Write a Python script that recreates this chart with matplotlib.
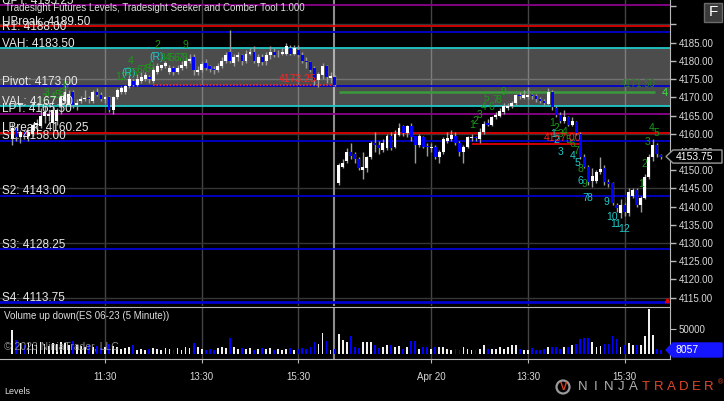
import numpy as np
import matplotlib.pyplot as plt
import matplotlib.transforms as mtransforms
from matplotlib.patches import Polygon, Rectangle, Ellipse

plt.rcParams['font.family'] = ['Liberation Sans', 'DejaVu Sans']

# ES 06-23, 5 minute bars, Apr 19 (day 1) and Apr 20 (day 2)
d1_open = [4158.5, 4161.5, 4159, 4160.5, 4159.5, 4160, 4162.5, 4162, 4165, 4165,
           4163, 4163.5, 4167.5, 4169, 4168, 4171.5, 4168, 4169, 4169.5, 4169.75,
           4169, 4171.5, 4170.75, 4169.5, 4170, 4166.5, 4170, 4171.5, 4171.5, 4173,
           4174.5, 4173.5, 4174.5, 4175, 4175.5, 4174.5, 4177, 4178, 4178.5, 4177,
           4178, 4177, 4178, 4178.5, 4180, 4181, 4177, 4177.5, 4179.5, 4178.5,
           4177.75, 4177.5, 4178.5, 4180, 4182.5, 4179.5, 4181, 4181.5, 4180, 4182,
           4182.5, 4179.5, 4181, 4180, 4181.5, 4182.5, 4181.5, 4182, 4182, 4183.5,
           4182, 4183, 4181.75, 4180, 4179.75, 4178, 4174.75, 4176.25, 4178.5, 4175.25,
           4175.5]
d1_high = [4163, 4162, 4161, 4161, 4161, 4163, 4164, 4167, 4167.5, 4166.5,
           4167.5, 4167, 4171, 4173.5, 4172, 4172, 4169.5, 4170.5, 4172, 4170.5,
           4172, 4172.5, 4171.5, 4170.5, 4170.5, 4170.5, 4172.5, 4173, 4173.5, 4176,
           4175, 4176.5, 4177, 4177, 4176, 4178.5, 4179.5, 4179, 4180, 4179,
           4178.5, 4179, 4180, 4181, 4182, 4182, 4178.5, 4180, 4180.5, 4179,
           4178.5, 4179.5, 4181, 4182.5, 4188.5, 4182, 4182.5, 4182, 4183, 4183.5,
           4184, 4182, 4182, 4182.5, 4184, 4183.5, 4183, 4183.5, 4185, 4184.5,
           4184.5, 4184.5, 4182.5, 4181, 4180, 4178.5, 4177, 4179.5, 4179, 4177,
           4176]
d1_low = [4157, 4158, 4157.5, 4158.5, 4158, 4159.5, 4161, 4161.5, 4163, 4163.5,
          4161, 4162.5, 4165.5, 4168.5, 4167.5, 4167, 4166.5, 4168.5, 4169, 4168.5,
          4168.5, 4170.5, 4169, 4168.5, 4166, 4165.5, 4169.5, 4171, 4171, 4172.5,
          4173, 4173, 4174, 4174.5, 4174, 4174, 4176.5, 4177.5, 4178, 4176.5,
          4176, 4176.5, 4177.5, 4178, 4179.5, 4176, 4176, 4177, 4177.5, 4177,
          4176.5, 4177, 4178, 4179.5, 4179.5, 4178.5, 4180, 4179, 4179.5, 4181.5,
          4179.5, 4178.5, 4179, 4179, 4180.5, 4181, 4181, 4181.5, 4181.5, 4181.5,
          4181.5, 4181, 4179.5, 4178, 4177, 4173.5, 4172.75, 4175, 4174, 4174,
          4173]
d1_close = [4161.5, 4159, 4160.5, 4159.5, 4160.5, 4162.5, 4163, 4165, 4166, 4165.5,
            4166.5, 4166.5, 4170.5, 4171.5, 4171, 4168, 4168.5, 4169.5, 4169.75, 4169.5,
            4171.5, 4170.75, 4169.5, 4170, 4166.5, 4170, 4172, 4172.5, 4173, 4175,
            4173.5, 4175, 4175.5, 4176, 4175, 4177.5, 4178.5, 4178.75, 4179.5, 4178,
            4177, 4178, 4179, 4180, 4180.5, 4177.5, 4177.5, 4179.25, 4178, 4177.75,
            4177.5, 4178.5, 4180, 4181.5, 4180, 4181, 4181.5, 4180, 4182, 4182.5,
            4180, 4181, 4179.75, 4181.5, 4182.5, 4181.5, 4181.75, 4182.5, 4184, 4182,
            4183.5, 4181.75, 4180, 4179.75, 4177.5, 4174.75, 4176.5, 4178.5, 4175.5, 4175.75,
            4173.25]

d2_open = [4146.5, 4151, 4152.5, 4155, 4154.5, 4153, 4150, 4150.5, 4153.5, 4157.5,
           4157, 4155.5, 4156, 4159.5, 4156.5, 4159.75, 4162, 4160.25, 4162.25, 4159.25,
           4157, 4159, 4156.75, 4156, 4156.5, 4153.5, 4155, 4158, 4158.5, 4159.5,
           4157.5, 4155, 4156.5, 4158.75, 4159, 4158.5, 4160.5, 4163, 4162.5, 4164.5,
           4165, 4166, 4167, 4167.5, 4168.5, 4170.75, 4169.75, 4170, 4170.75, 4170.25,
           4169.5, 4169, 4168.25, 4171.5, 4167, 4165.25, 4163.5, 4164.5, 4162.5, 4163.25,
           4160, 4153.75, 4151, 4147, 4147, 4149.5, 4150.5, 4146.75, 4146.5, 4140.5,
           4138.25, 4140.5, 4138.25, 4143, 4144.5, 4140.5, 4142.5, 4148.25, 4153.5, 4157,
           4154.25]
d2_high = [4152, 4153, 4156, 4157.5, 4155, 4153.5, 4155, 4154, 4158, 4160.5,
           4158, 4158.5, 4160, 4160.5, 4161, 4163, 4162.5, 4162.5, 4163, 4159.5,
           4160, 4159.5, 4157.5, 4157.5, 4157, 4155.5, 4159, 4160.5, 4161, 4160.5,
           4158, 4157, 4159.5, 4160, 4159.5, 4161.5, 4163.5, 4164, 4165, 4166,
           4167, 4168.5, 4168.5, 4169, 4171, 4171.5, 4172, 4172.5, 4171, 4171,
           4170, 4169.5, 4172.5, 4172, 4167.5, 4166, 4166.5, 4165, 4164.5, 4163.5,
           4160.5, 4154.5, 4151.5, 4150.5, 4150, 4153.5, 4151.5, 4147.5, 4146.75, 4141,
           4142, 4141, 4145, 4145, 4145, 4143, 4149, 4154.5, 4158.5, 4157.5,
           4154.5]
d2_low = [4146, 4150.5, 4152, 4153, 4152, 4150, 4147.5, 4149.5, 4153, 4155,
          4154.5, 4155, 4155.5, 4155.5, 4156, 4159.5, 4159.5, 4159, 4158, 4152,
          4156.5, 4156, 4154, 4155, 4153, 4152, 4154.5, 4157.5, 4158, 4157,
          4154, 4152, 4156, 4158, 4158, 4157.5, 4160, 4162, 4162, 4164,
          4164.5, 4165.5, 4166.5, 4167, 4168, 4169.5, 4169.5, 4169.5, 4169.5, 4168.75,
          4168.5, 4168, 4168, 4166.5, 4164.5, 4163, 4163, 4162, 4162, 4159.75,
          4153, 4150.5, 4146, 4145.5, 4146.5, 4149, 4146, 4145.5, 4140.5, 4138.5,
          4137, 4137.5, 4137.5, 4142.5, 4140, 4138.5, 4142, 4147.5, 4152.5, 4153.5,
          4153]
d2_close = [4151.5, 4152, 4155, 4154, 4153, 4150.5, 4151, 4153.5, 4157.5, 4157,
            4156, 4157.5, 4159.5, 4156, 4160, 4161.5, 4160.25, 4162, 4159, 4157,
            4159.25, 4156.5, 4156.25, 4156.5, 4153.5, 4155, 4158.5, 4158.75, 4159.75, 4157.5,
            4155, 4156.5, 4159, 4159, 4158.75, 4160.5, 4162.75, 4162.5, 4164.5, 4165.25,
            4166.25, 4167.5, 4167.75, 4168.5, 4170.75, 4170.25, 4170.75, 4170.75, 4170.25, 4169.5,
            4169, 4168.5, 4171.5, 4167.25, 4165.25, 4163.5, 4164.5, 4162.5, 4163.5, 4160.25,
            4153.75, 4151, 4146.75, 4148.5, 4149.5, 4150.25, 4146.75, 4146.25, 4141, 4139.75,
            4140.5, 4138.5, 4144, 4144.5, 4140.5, 4142.5, 4148.25, 4153.5, 4157, 4154.5,
            4153.75]

# volume in thousands of contracts
d1_vol = [48, 28, 22, 18, 22, 20, 18, 24, 20, 16, 22, 20, 24, 22, 18, 26, 18, 16, 14, 18,
          14, 16, 12, 14, 20, 16, 14, 10, 12, 14, 18, 8, 10, 8, 10, 12, 10, 8, 12, 10,
          8, 12, 8, 14, 12, 22, 14, 10, 8, 10, 8, 12, 14, 12, 32, 14, 10, 12, 10, 12,
          8, 10, 12, 10, 12, 8, 10, 8, 10, 12, 8, 10, 12, 10, 14, 24, 20, 42, 26, 8, 10]
d2_vol = [40, 28, 24, 36, 14, 12, 24, 24, 24, 18, 12, 14, 18, 18, 14, 16, 11, 14, 26, 26,
          11, 14, 14, 11, 14, 14, 14, 11, 8, 11, 8, 14, 11, 8, 8, 11, 18, 11, 11, 11,
          14, 11, 14, 18, 18, 11, 8, 8, 13, 8, 8, 11, 15, 15, 15, 11, 14, 14, 18, 21,
          30, 32, 32, 24, 14, 16, 20, 21, 36, 30, 14, 18, 22, 18, 18, 18, 36, 90, 38, 11, 8]

level_names = ['UPT', 'UBreak', 'R1', 'VAH', 'Pivot', 'VAL', 'LPT', 'LBreak',
               'S1', 'S2', 'S3', 'S4']
level_values = [4195.25, 4189.50, 4188.00, 4183.50, 4173.00, 4167.50, 4165.50,
                4160.25, 4158.00, 4143.00, 4128.25, 4113.75]
level_colors = ['#8b008b', '#e00000', '#0000d0', '#20c8c8', '#0000d0', '#20c8c8',
                '#8b008b', '#e00000', '#0000d0', '#0000d0', '#0000d0', '#0000d0']

tick_pos = [23, 47, 71, 104, 128, 152]
tick_lab = ['11:30', '13:30', '15:30', 'Apr 20', '13:30', '15:30']

GREEN = '#1a9a1a'
CYAN = '#22c8c8'
RED = '#ff2424'
# (bar index, price, text, colour)
marks = [
    (6.9, 4168.7, '1', GREEN), (7.9, 4169.8, '2', GREEN), (8.6, 4171.2, '3', GREEN),
    (10.1, 4170.1, '4', GREEN), (11.1, 4170.6, '5', GREEN), (12.1, 4171.2, '6', GREEN),
    (13.3, 4173.1, '8', GREEN),
    (26.2, 4175.7, '1', GREEN), (27.6, 4175.5, '2', GREEN), (28.9, 4177.0, '3', GREEN),
    (29.3, 4180.0, '4', GREEN), (28.9, 4176.8, '(R)', CYAN),
    (30.4, 4176.8, '5', GREEN), (31.6, 4177.4, '6', GREEN), (32.6, 4177.4, '7', GREEN),
    (33.6, 4177.9, '8', GREEN), (34.6, 4178.5, '9', GREEN),
    (35.9, 4181.2, '(R)', CYAN), (35.9, 4184.5, '2', GREEN),
    (37.4, 4180.9, '3', GREEN), (38.6, 4180.9, '4', GREEN), (39.6, 4180.9, '5', GREEN),
    (40.6, 4180.9, '6', GREEN), (41.6, 4180.9, '7', GREEN), (42.6, 4180.9, '8', GREEN),
    (42.9, 4184.5, '9', GREEN),
    (114.1, 4162.4, '1', GREEN), (114.9, 4163.5, '2', GREEN), (115.9, 4165.2, '3', GREEN),
    (116.9, 4167.3, '4', GREEN), (117.8, 4169.8, '5', GREEN), (118.8, 4167.3, '6', GREEN),
    (119.8, 4169.3, '7', GREEN), (120.6, 4169.3, '8', GREEN), (121.8, 4171.5, '9', GREEN),
    (134.0, 4163.0, '1', GREEN), (135.0, 4161.6, '2', GREEN), (136.0, 4160.0, '3', GREEN),
    (137.0, 4160.5, '4', GREEN), (138.0, 4158.3, '5', GREEN), (139.0, 4157.2, '6', GREEN),
    (140.0, 4155.2, '7', GREEN), (141.0, 4150.2, '8', GREEN), (142.0, 4146.3, '9', GREEN),
    (134.2, 4160.0, '1', CYAN), (135.0, 4158.4, '2', CYAN), (136.0, 4155.1, '3', CYAN),
    (139.0, 4153.9, '4', CYAN), (140.2, 4151.9, '5', CYAN), (141.0, 4147.0, '6', CYAN),
    (142.2, 4142.4, '7', CYAN), (143.2, 4142.4, '8', CYAN), (147.6, 4141.3, '9', CYAN),
    (148.9, 4137.2, '10', CYAN), (149.9, 4135.3, '11', CYAN), (151.8, 4133.9, '12', CYAN),
    (156.1, 4146.2, '1', GREEN), (156.8, 4151.7, '2', GREEN), (157.8, 4157.7, '3', GREEN),
    (158.8, 4161.6, '4', GREEN), (160.0, 4160.2, '5', GREEN),
    (70.9, 4175.0, '4173.25', RED), (136.5, 4158.8, '4157.00', RED),
]

opens = np.array(d1_open + d2_open)
highs = np.array(d1_high + d2_high)
lows = np.array(d1_low + d2_low)
closes = np.array(d1_close + d2_close)
vols = np.array(d1_vol + d2_vol) * 1000
idx = np.arange(len(closes))
up = closes >= opens

W, H = 724, 401
fig = plt.figure(figsize=(W / 100, H / 100), dpi=100, facecolor='black')
ax = fig.add_axes([0, 1 - 306 / H, 670 / W, 306 / H], facecolor='black')
axv = fig.add_axes([0, 1 - 359 / H, 670 / W, 52 / H], facecolor='black')

xlim = (-3.07, 163.27)
for a in (ax, axv):
    a.set_xlim(*xlim)
    for t in tick_pos:
        a.axvline(t, color='#444444', lw=1, zorder=0)
    a.axvline(79.9, color='#8c8c8c', lw=1.5, zorder=0.6)
    for s in a.spines.values():
        s.set_visible(False)
    a.spines['right'].set_visible(True)
    a.spines['right'].set_color('#b8b8b8')

ax.set_ylim(4112.72, 4196.72)
for g in range(4115, 4195, 15):
    ax.axhline(g, color='#363636', lw=1, zorder=0)

# value area
ax.axhspan(4167.5, 4183.5, color='white', alpha=0.3, lw=0, zorder=1)

for name, val, col in zip(level_names, level_values, level_colors):
    ax.axhline(val, color=col, lw=1.3 if name != 'S4' else 2, zorder=2)
    ax.text(-2.6, val + 0.45, f'{name}: {val:.2f}', color='#e8e8e8', fontsize=8.5,
            va='baseline', ha='left', zorder=7)

ax.hlines(4173.25, 35, 80.3, colors=RED, linestyles=(0, (1, 1)), lw=1.2, zorder=2.5)
ax.hlines(4157.25, 114, 141.5, colors='#e00000', lw=1.3, zorder=2.5)
ax.hlines(4171.5, 81, 159.6, colors='#3c9a3c', lw=1.8, zorder=2.5)
ax.text(155.3, 4173.7, '4171.50', color='#2a7a2a', fontsize=7, ha='center', va='center', zorder=6)
ax.text(162.0, 4171.2, '4', color='#40e040', fontsize=8, ha='center', va='center', zorder=6)

# candles
ax.vlines(idx, lows, highs, color='#9c9c9c', lw=1, zorder=3)
body = np.maximum(np.abs(closes - opens), 0.25)
ax.bar(idx, body, bottom=np.minimum(opens, closes), width=0.72,
       color=np.where(up, 'white', '#0000ff'), lw=0, zorder=4)

for x, y, s, c in marks:
    ax.text(x, y, s, color=c, fontsize=7.5, ha='center', va='center', zorder=6)

ax.plot([162.6], [4114.3], marker='^', color='#e00000', ms=3, zorder=6)

ax.yaxis.tick_right()
pt = list(range(4115, 4200, 5))
ax.set_yticks(pt)
ax.set_yticklabels([f'{v:.2f}' if v <= 4185 else '' for v in pt])
ax.tick_params(axis='y', colors='#d8d8d8', labelsize=7, length=4, pad=2, width=1)
ax.tick_params(axis='y', color='#b8b8b8')
ax.set_xticks([])

# volume panel
axv.set_ylim(-10000, 94000)
axv.bar(idx, vols, width=0.45, color=np.where(up, '#f0f0f0', '#0000ff'), lw=0, zorder=3)
axv.spines['top'].set_visible(True)
axv.spines['bottom'].set_visible(True)
axv.spines['top'].set_color('#b8b8b8')
axv.spines['bottom'].set_color('#b8b8b8')
axv.yaxis.tick_right()
axv.set_yticks([50000])
axv.set_yticklabels(['50000'])
axv.tick_params(axis='y', colors='#d8d8d8', labelsize=7, length=4, pad=2)
axv.tick_params(axis='y', color='#b8b8b8')
axv.set_xticks(tick_pos)
axv.set_xticklabels(tick_lab)
axv.tick_params(axis='x', colors='#d8d8d8', labelsize=7, length=3, pad=6)
axv.tick_params(axis='x', color='#b8b8b8')


def tag(a, yval, half, text, face, edge, tcol):
    tr = mtransforms.blended_transform_factory(a.transAxes, a.transData)
    x0, x1, x2 = 666 / 670, 673 / 670, 722 / 670
    pts = [(x0, yval), (x1, yval + half), (x2, yval + half), (x2, yval - half), (x1, yval - half)]
    a.add_patch(Polygon(pts, closed=True, transform=tr, fc=face, ec=edge, lw=1,
                        clip_on=False, zorder=10))
    a.text(676 / 670, yval, text, transform=tr, color=tcol, fontsize=7.5,
           va='center', ha='left', clip_on=False, zorder=11)


tag(ax, closes[-1], 1.8, f'{closes[-1]:.2f}', 'black', '#9a9a9a', 'white')
tag(axv, 8057, 14000, '8057', '#1515ff', '#1515ff', 'white')

# texts around the panels
fig.text(5 / W, 1 - 8 / H, 'Tradesight Futures Levels, Tradesight Seeker and Comber Tool 1.000',
         color='#dcdcdc', fontsize=7, va='center')
fig.text(4 / W, 1 - 316 / H, 'Volume up down(ES 06-23 (5 Minute))', color='#dcdcdc',
         fontsize=7, va='center')
fig.text(4 / W, 1 - 347 / H, '\u00a9 2023 NinjaTrader, LLC', color='#a0a0a0', alpha=0.85,
         fontsize=7.5, va='center', zorder=20)
fig.text(4 / W, 1 - 392 / H, 'Levels', color='#dcdcdc', fontsize=6.5, va='center')

fig.add_artist(Rectangle((704 / W, 1 - 22 / H), 18 / W, 19 / H, transform=fig.transFigure,
                         fc='#3a3a3a', ec='#6a6a6a', lw=1))
fig.text(713 / W, 1 - 12.5 / H, 'F', color='white', fontsize=11, ha='center', va='center')

# NinjaTrader logo
fig.add_artist(Ellipse((563 / W, 1 - 387 / H), 13 / W, 13 / H, transform=fig.transFigure,
                       fc='none', ec='#9a9a9a', lw=1.6))
fig.text(564 / W, 1 - 387 / H, 'V', color='#d04020', fontsize=8, ha='center', va='center',
         fontweight='bold')
for k, ch in enumerate('NINJATRADER'):
    fig.text((583 + 12.6 * k) / W, 1 - 387 / H, ch, color='#b0b0b0' if k < 5 else '#e0482a',
             fontsize=9.5, ha='center', va='center')
fig.text(720 / W, 1 - 383 / H, '\u00ae', color='#e0482a', fontsize=5, ha='center', va='center')

fig.savefig('out.png', dpi=100, facecolor='black')
